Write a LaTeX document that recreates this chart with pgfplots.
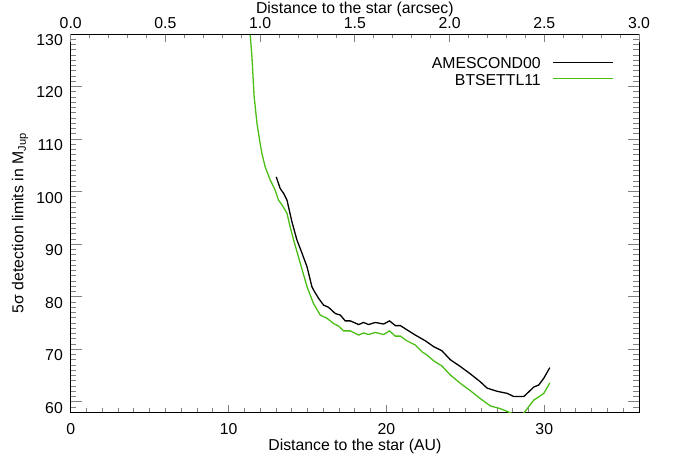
\documentclass[border=0pt]{standalone}
\usepackage{pgfplots}
\pgfplotsset{compat=1.18}
\usepackage{fontspec}
\setmainfont{Liberation Sans}
\definecolor{bgreen}{RGB}{75,190,20}
\begin{document}
\fontsize{15.8bp}{19bp}\selectfont
\begin{tikzpicture}
\useasboundingbox (-70.7bp,-48.7bp) rectangle (602.3bp,412.3bp);
\begin{axis}[
  scale only axis, width=568.3bp, height=378.3bp,
  xmin=0, xmax=36, ymin=58, ymax=130,
  axis line style={line width=0.8bp},
  xtick={0,10,20,30}, minor xtick={0,1,...,36},
  ytick={60,70,...,130}, minor ytick={58,59,...,130},
  xtick pos=bottom, tick align=inside,
  xtick style={line width=0.8bp, /pgfplots/major tick length=7.6bp, /pgfplots/minor tick length=3.8bp},
  ytick style={line width=0.8bp, /pgfplots/major tick length=11.4bp, /pgfplots/minor tick length=5.7bp},
  /pgf/number format/assume math mode=true,
  ticklabel style={font=\fontsize{15.8bp}{19bp}\selectfont},
  xticklabel style={anchor=north, inner sep=0pt, yshift=-10.7bp},
  yticklabel style={anchor=east, inner sep=0pt, xshift=-7.7bp, yshift=-6bp},
  xlabel={Distance to the star (AU)},
  xlabel style={at={(axis description cs:0.5,-0.089)}, anchor=center, inner sep=0pt},
  ylabel={5σ detection limits in M\textsubscript{Jup}},
  ylabel style={at={(axis description cs:-0.0892,0.5)}, anchor=center, inner sep=0pt, rotate=0},
  legend style={draw=none, fill=none, at={(0.9543,0.9379)}, anchor=north east, inner sep=0pt, outer sep=0pt, row sep=5.2bp,
    font=\fontsize{15.8bp}{19bp}\selectfont,
    nodes={inner sep=0pt, text height=11.3bp, text depth=0pt},
    /tikz/every odd column/.append style={column sep=11.3bp}},
  legend cell align=right,
  legend plot pos=right,
  legend image code/.code={\draw[#1, line width=1bp] (0bp,0.8bp) -- (60bp,0.8bp);},
]
\addplot[black, line width=1.3bp] coordinates {
(13.02,102.8) (13.27,100.6) (13.48,99.7) (13.70,98.4) (14.01,94.3) (14.33,90.8)
(14.65,88.3) (14.97,85.7) (15.28,81.9) (15.38,81.3) (15.70,79.7) (16.02,78.4)
(16.33,78.0) (16.76,76.8) (17.08,76.5) (17.39,75.4) (17.71,75.4) (18.24,74.7)
(18.55,75.1) (18.87,74.7) (19.30,75.1) (19.82,74.8) (20.20,75.4) (20.56,74.5)
(20.88,74.5) (21.30,73.7) (21.83,72.7) (22.47,71.6) (22.99,70.5) (23.52,69.7)
(24.05,68.0) (24.69,66.7) (25.32,65.3) (25.95,63.8) (26.38,62.6) (27.01,62.0)
(27.65,61.6) (28.07,61.0) (28.70,61.0) (29.02,61.9) (29.33,62.8) (29.65,63.2)
(29.97,64.5) (30.35,66.5)
};
\addlegendentry{AMESCOND00}
\addplot[bgreen, line width=1.3bp] coordinates {
(11.30,131.5) (11.37,130.0) (11.48,125.7) (11.62,118.1) (11.80,113.0) (12.00,109.2)
(12.11,107.3) (12.32,104.7) (12.64,102.2) (12.95,100.3) (13.16,98.4) (13.38,97.5)
(13.70,95.9) (13.90,93.3) (14.12,90.8) (14.54,86.4) (14.97,81.9) (15.38,78.7)
(15.81,76.5) (16.23,75.9) (16.65,74.9) (16.97,74.4) (17.29,73.5) (17.71,73.5)
(18.24,72.7) (18.55,73.1) (18.87,72.8) (19.30,73.2) (19.82,72.8) (20.20,73.5)
(20.56,72.5) (20.88,72.5) (21.30,71.6) (21.83,70.8) (22.26,69.5) (22.57,68.9)
(22.99,67.8) (23.52,66.8) (24.05,65.1) (24.69,63.5) (25.32,62.1) (25.95,60.6)
(26.59,59.2) (27.22,58.7) (27.86,57.9) (28.10,57.5) (28.60,57.5) (28.74,58.0)
(29.33,60.3) (29.97,61.6) (30.35,63.6)
};
\addlegendentry{BTSETTL11}
\end{axis}
\begin{axis}[
  scale only axis, width=568.3bp, height=378.3bp,
  xmin=0, xmax=3, ymin=58, ymax=130,
  axis x line*=top, hide y axis, tick align=inside,
  axis line style={line width=0.8bp},
  xtick={0,0.5,...,3.0}, minor xtick={0,0.1,...,3.0},
  xtick style={line width=0.8bp, /pgfplots/major tick length=7.6bp, /pgfplots/minor tick length=3.8bp},
  /pgf/number format/assume math mode=true,
  xticklabel={\pgfmathprintnumber[fixed, fixed zerofill, precision=1]{\tick}},
  ticklabel style={font=\fontsize{15.8bp}{19bp}\selectfont},
  xticklabel style={anchor=south, inner sep=0pt, yshift=4.7bp},
  xlabel={Distance to the star (arcsec)},
  xlabel style={at={(axis description cs:0.5,1.066)}, anchor=center, inner sep=0pt},
]
\end{axis}
\end{tikzpicture}
\end{document}
